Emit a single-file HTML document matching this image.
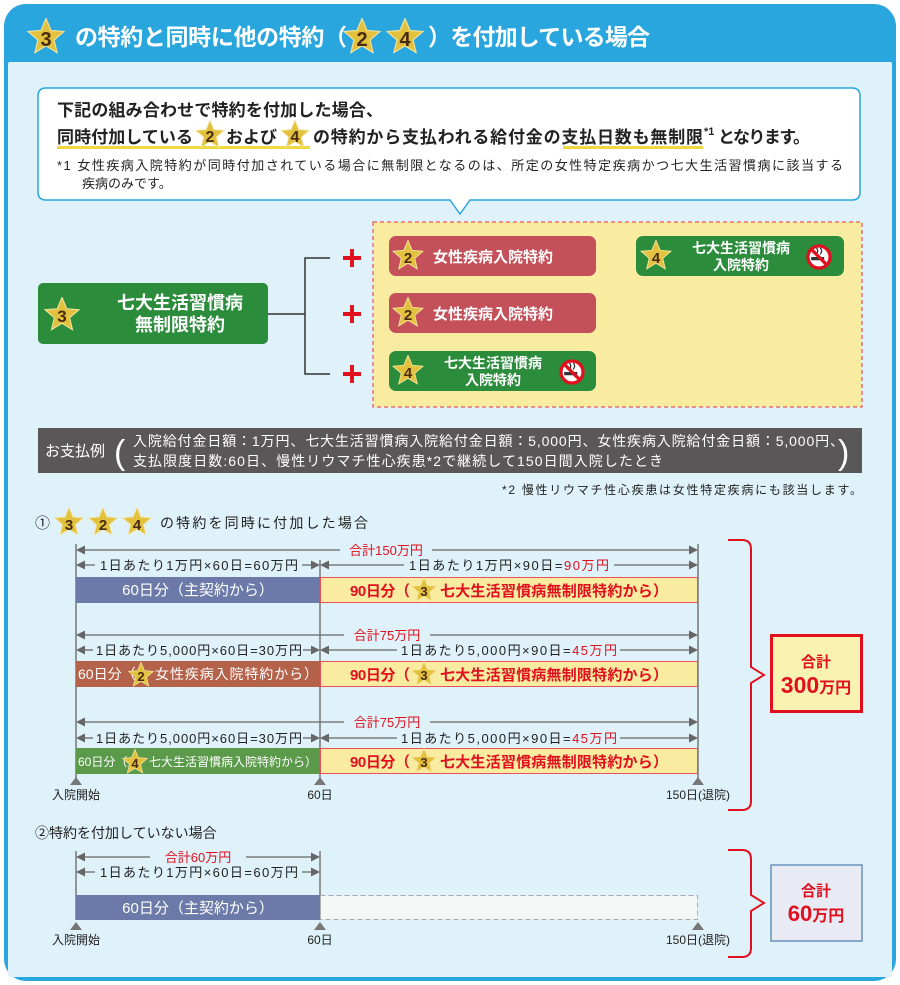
<!DOCTYPE html>
<html><head><meta charset="utf-8"><style>
html,body{margin:0;padding:0;background:#fff;}
svg{display:block;font-family:"Liberation Sans","Noto Sans CJK JP",sans-serif;}
</style></head><body>
<svg width="900" height="985" viewBox="0 0 900 985" xmlns="http://www.w3.org/2000/svg">
<defs>
<symbol id="st" viewBox="-1 -1.02 2 1.9"><polygon points="0,-1 .265,-.364 .951,-.309 .428,.139 .588,.809 0,.45 -.588,.809 -.428,.139 -.951,-.309 -.265,-.364" fill="#e2c13e" stroke="#f4e39a" stroke-width=".06"/></symbol>
<symbol id="ns" viewBox="-10 -10 20 20"><circle r="8.5" fill="#fff" stroke="#e0101e" stroke-width="2.5"/><rect x="-6" y="0" width="10" height="2.5" fill="#333"/><path d="M-2,-2 q2,-3 0,-5 M1,-2 q2,-3 0,-5" stroke="#333" stroke-width="1" fill="none"/><line x1="-6" y1="-6" x2="6" y2="6" stroke="#e0101e" stroke-width="2.5"/></symbol>
<marker id="ar" viewBox="0 0 10 10" refX="9" refY="5" markerWidth="7" markerHeight="7" orient="auto-start-reverse"><path d="M0,0 L10,5 L0,10 z" fill="#666"/></marker>
</defs>
<rect x="4" y="4" width="892" height="977" rx="22" fill="#2aa6de"/>
<rect x="8" y="62" width="884" height="915" rx="2" fill="#dff1f9"/>
<!-- title -->
<use href="#st" x="27" y="18" width="38" height="36"/>
<text x="46" y="46" font-size="20" font-weight="bold" fill="#4a2a10" text-anchor="middle">3</text>
<text x="75" y="45" font-size="23" font-weight="bold" fill="#fff" textLength="272">の特約と同時に他の特約（</text>
<use href="#st" x="343" y="18" width="38" height="36"/>
<text x="362" y="46" font-size="20" font-weight="bold" fill="#4a2a10" text-anchor="middle">2</text>
<use href="#st" x="386" y="18" width="38" height="36"/>
<text x="405" y="46" font-size="20" font-weight="bold" fill="#4a2a10" text-anchor="middle">4</text>
<text x="428" y="45" font-size="23" font-weight="bold" fill="#fff" textLength="222">）を付加している場合</text>
<!-- callout -->
<path d="M46,88 H852 Q860,88 860,96 V192 Q860,200 852,200 H470 L460,214 L450,200 H46 Q38,200 38,192 V96 Q38,88 46,88 Z" fill="#fff" stroke="#2aa6de" stroke-width="1.5"/>
<text x="57" y="116" font-size="17" font-weight="bold" fill="#222" textLength="326">下記の組み合わせで特約を付加した場合、</text>
<rect x="57" y="146" width="253" height="3" fill="#f0d840"/>
<rect x="563" y="146" width="140" height="3" fill="#f0d840"/>
<text x="57" y="143" font-size="17" font-weight="bold" fill="#222" textLength="136">同時付加している</text>
<use href="#st" x="195" y="120" width="30" height="28"/><text x="210" y="142" font-size="16" font-weight="bold" fill="#4a2a10" text-anchor="middle">2</text>
<text x="226" y="143" font-size="17" font-weight="bold" fill="#222" textLength="51">および</text>
<use href="#st" x="280" y="120" width="30" height="28"/><text x="295" y="142" font-size="16" font-weight="bold" fill="#4a2a10" text-anchor="middle">4</text>
<text x="313" y="143" font-size="17" font-weight="bold" fill="#222" textLength="390">の特約から支払われる給付金の支払日数も無制限</text>
<text x="704" y="135" font-size="11" font-weight="bold" fill="#222">*1</text>
<text x="718" y="143" font-size="17" font-weight="bold" fill="#222" textLength="92">となります。</text>
<text x="57" y="170" font-size="13" fill="#222" textLength="786">*1  女性疾病入院特約が同時付加されている場合に無制限となるのは、所定の女性特定疾病かつ七大生活習慣病に該当する</text>
<text x="82" y="188" font-size="13" fill="#222">疾病のみです。</text>
<!-- left green -->
<rect x="38" y="283" width="230" height="61" rx="5" fill="#2b8c3b"/>
<use href="#st" x="44" y="297" width="36" height="34"/><text x="62" y="322" font-size="17" font-weight="bold" fill="#4a2a10" text-anchor="middle">3</text>
<text x="180" y="309" font-size="18" font-weight="bold" fill="#fff" text-anchor="middle">七大生活習慣病</text>
<text x="180" y="331" font-size="18" font-weight="bold" fill="#fff" text-anchor="middle">無制限特約</text>
<path d="M268,314 H305 M330,258 H305 V374 H330" stroke="#333" stroke-width="1.5" fill="none"/>
<g fill="#e0101e"><rect x="343" y="256" width="18" height="4"/><rect x="350" y="249" width="4" height="18"/>
<rect x="343" y="312" width="18" height="4"/><rect x="350" y="305" width="4" height="18"/>
<rect x="343" y="372" width="18" height="4"/><rect x="350" y="365" width="4" height="18"/>
<rect x="607" y="253" width="20" height="4"/><rect x="615" y="245" width="4" height="20"/></g>
<!-- yellow dashed -->
<rect x="373" y="222" width="489" height="185" fill="#f9eba0" stroke="#e8323c" stroke-dasharray="4,3" stroke-width="1"/>
<rect x="389" y="236" width="207" height="40" rx="7" fill="#c4505a"/>
<rect x="389" y="293" width="207" height="40" rx="7" fill="#c4505a"/>
<rect x="389" y="351" width="207" height="40" rx="7" fill="#2b8c3b"/>
<rect x="636" y="236" width="208" height="40" rx="7" fill="#2b8c3b"/>
<use href="#st" x="392" y="240" width="32" height="30"/><text x="408" y="263" font-size="15" font-weight="bold" fill="#4a2a10" text-anchor="middle">2</text>
<text x="433" y="262" font-size="15" font-weight="bold" fill="#fff">女性疾病入院特約</text>
<use href="#st" x="392" y="297" width="32" height="30"/><text x="408" y="320" font-size="15" font-weight="bold" fill="#4a2a10" text-anchor="middle">2</text>
<text x="433" y="319" font-size="15" font-weight="bold" fill="#fff">女性疾病入院特約</text>
<use href="#st" x="392" y="355" width="32" height="30"/><text x="408" y="378" font-size="15" font-weight="bold" fill="#4a2a10" text-anchor="middle">4</text>
<text x="493" y="368" font-size="14" font-weight="bold" fill="#fff" text-anchor="middle">七大生活習慣病</text>
<text x="493" y="385" font-size="14" font-weight="bold" fill="#fff" text-anchor="middle">入院特約</text>
<use href="#ns" x="559" y="359" width="26" height="26"/>
<use href="#st" x="640" y="240" width="32" height="30"/><text x="656" y="263" font-size="15" font-weight="bold" fill="#4a2a10" text-anchor="middle">4</text>
<text x="741" y="253" font-size="14" font-weight="bold" fill="#fff" text-anchor="middle">七大生活習慣病</text>
<text x="741" y="270" font-size="14" font-weight="bold" fill="#fff" text-anchor="middle">入院特約</text>
<use href="#ns" x="806" y="244" width="26" height="26"/>
<!-- gray band -->
<rect x="38" y="428" width="824" height="45" fill="#595757"/>
<text x="45" y="456" font-size="15" fill="#fff">お支払例</text>
<text x="114" y="464" font-size="34" fill="#fff">(</text>
<text x="838" y="464" font-size="34" fill="#fff">)</text>
<text x="133" y="446" font-size="14" fill="#fff" textLength="711">入院給付金日額：1万円、七大生活習慣病入院給付金日額：5,000円、女性疾病入院給付金日額：5,000円、</text>
<text x="133" y="466" font-size="14" fill="#fff" textLength="530">支払限度日数:60日、慢性リウマチ性心疾患*2で継続して150日間入院したとき</text>
<text x="862" y="494" font-size="12" fill="#222" text-anchor="end" textLength="360">*2 慢性リウマチ性心疾患は女性特定疾病にも該当します。</text>
<!-- section 1 -->
<text x="35" y="528" font-size="15" fill="#222">①</text>
<use href="#st" x="54" y="507" width="30" height="29"/><text x="69" y="530" font-size="15" font-weight="bold" fill="#4a2a10" text-anchor="middle">3</text>
<use href="#st" x="88" y="507" width="30" height="29"/><text x="103" y="530" font-size="15" font-weight="bold" fill="#4a2a10" text-anchor="middle">2</text>
<use href="#st" x="122" y="507" width="30" height="29"/><text x="137" y="530" font-size="15" font-weight="bold" fill="#4a2a10" text-anchor="middle">4</text>
<text x="160" y="528" font-size="14" fill="#222" textLength="208">の特約を同時に付加した場合</text>
<g stroke="#777" stroke-width="1.5">
<line x1="76" y1="544" x2="76" y2="778"/><line x1="320" y1="560" x2="320" y2="778"/><line x1="698" y1="544" x2="698" y2="778"/>
</g>
<g fill="#777"><path d="M70,785 L76,777 L82,785 Z"/><path d="M314,785 L320,777 L326,785 Z"/><path d="M692,785 L698,777 L704,785 Z"/></g>
<text x="76" y="799" font-size="12" fill="#222" text-anchor="middle">入院開始</text>
<text x="320" y="799" font-size="12" fill="#222" text-anchor="middle">60日</text>
<text x="698" y="799" font-size="12" fill="#222" text-anchor="middle">150日(退院)</text>
<g stroke="#666" stroke-width="1.3" fill="none">
<line x1="77" y1="550" x2="340" y2="550" marker-start="url(#ar)"/><line x1="432" y1="550" x2="697" y2="550" marker-end="url(#ar)"/>
<line x1="77" y1="565" x2="95" y2="565" marker-start="url(#ar)"/><line x1="302" y1="565" x2="319" y2="565" marker-end="url(#ar)"/>
<line x1="321" y1="565" x2="404" y2="565" marker-start="url(#ar)"/><line x1="614" y1="565" x2="697" y2="565" marker-end="url(#ar)"/>
<line x1="77" y1="635" x2="344" y2="635" marker-start="url(#ar)"/><line x1="430" y1="635" x2="697" y2="635" marker-end="url(#ar)"/>
<line x1="77" y1="650" x2="93" y2="650" marker-start="url(#ar)"/><line x1="303" y1="650" x2="319" y2="650" marker-end="url(#ar)"/>
<line x1="321" y1="650" x2="397" y2="650" marker-start="url(#ar)"/><line x1="620" y1="650" x2="697" y2="650" marker-end="url(#ar)"/>
<line x1="77" y1="722" x2="344" y2="722" marker-start="url(#ar)"/><line x1="430" y1="722" x2="697" y2="722" marker-end="url(#ar)"/>
<line x1="77" y1="738" x2="93" y2="738" marker-start="url(#ar)"/><line x1="303" y1="738" x2="319" y2="738" marker-end="url(#ar)"/>
<line x1="321" y1="738" x2="397" y2="738" marker-start="url(#ar)"/><line x1="620" y1="738" x2="697" y2="738" marker-end="url(#ar)"/>
</g>
<g font-size="13" fill="#222">
<text x="386" y="555" fill="#e0101e" text-anchor="middle">合計150万円</text>
<text x="100" y="570" textLength="198">1日あたり1万円×60日=60万円</text>
<text x="409" y="570" textLength="200">1日あたり1万円×90日=<tspan fill="#e0101e">90万円</tspan></text>
<text x="387" y="640" fill="#e0101e" text-anchor="middle">合計75万円</text>
<text x="96" y="655" textLength="206">1日あたり5,000円×60日=30万円</text>
<text x="401" y="655" textLength="216">1日あたり5,000円×90日=<tspan fill="#e0101e">45万円</tspan></text>
<text x="387" y="727" fill="#e0101e" text-anchor="middle">合計75万円</text>
<text x="96" y="743" textLength="206">1日あたり5,000円×60日=30万円</text>
<text x="401" y="743" textLength="216">1日あたり5,000円×90日=<tspan fill="#e0101e">45万円</tspan></text>
</g>
<rect x="76" y="577" width="244" height="26" fill="#6b7aa8"/>
<rect x="76" y="661" width="244" height="26" fill="#b5624a"/>
<rect x="76" y="748" width="244" height="26" fill="#5a9a4a"/>
<g fill="#f9eba0" stroke="#e8505a" stroke-width="1"><rect x="320.5" y="577.5" width="377" height="25"/><rect x="320.5" y="661.5" width="377" height="25"/><rect x="320.5" y="748.5" width="377" height="25"/></g>
<text x="198" y="595" font-size="15" fill="#fff" text-anchor="middle">60日分（主契約から）</text>
<text x="78" y="679" font-size="14" fill="#fff">60日分（</text>
<use href="#st" x="128" y="662" width="26" height="25"/><text x="141" y="681" font-size="13" font-weight="bold" fill="#4a2a10" text-anchor="middle">2</text>
<text x="155" y="679" font-size="14" fill="#fff" textLength="163">女性疾病入院特約から）</text>
<text x="78" y="766" font-size="12" fill="#fff">60日分（</text>
<use href="#st" x="122" y="749" width="26" height="25"/><text x="135" y="768" font-size="13" font-weight="bold" fill="#4a2a10" text-anchor="middle">4</text>
<text x="149" y="766" font-size="12" fill="#fff" textLength="168">七大生活習慣病入院特約から）</text>
<g font-size="15" font-weight="bold" fill="#e0101e">
<text x="350" y="596" textLength="60">90日分（</text><text x="440" y="596" textLength="228">七大生活習慣病無制限特約から）</text>
<text x="350" y="680" textLength="60">90日分（</text><text x="440" y="680" textLength="228">七大生活習慣病無制限特約から）</text>
<text x="350" y="767" textLength="60">90日分（</text><text x="440" y="767" textLength="228">七大生活習慣病無制限特約から）</text>
</g>
<use href="#st" x="411" y="577" width="26" height="25"/><text x="424" y="596" font-size="13" font-weight="bold" fill="#4a2a10" text-anchor="middle">3</text>
<use href="#st" x="411" y="661" width="26" height="25"/><text x="424" y="680" font-size="13" font-weight="bold" fill="#4a2a10" text-anchor="middle">3</text>
<use href="#st" x="411" y="748" width="26" height="25"/><text x="424" y="767" font-size="13" font-weight="bold" fill="#4a2a10" text-anchor="middle">3</text>
<path d="M728,540 H742 Q751,540 751,549 V667 L764,675 L751,683 V801 Q751,810 742,810 H728" fill="none" stroke="#e0101e" stroke-width="2"/>
<rect x="771.5" y="635.5" width="90" height="76" fill="#faf2b0" stroke="#e0101e" stroke-width="3"/>
<text x="816" y="667" font-size="15" font-weight="bold" fill="#e0101e" text-anchor="middle">合計</text>
<text x="816" y="693" font-size="23" font-weight="bold" fill="#e0101e" text-anchor="middle">300<tspan font-size="16">万円</tspan></text>
<!-- section 2 -->
<text x="35" y="838" font-size="14" fill="#222">②特約を付加していない場合</text>
<g stroke="#777" stroke-width="1.5"><line x1="76" y1="851" x2="76" y2="920"/><line x1="320" y1="851" x2="320" y2="920"/></g>
<g stroke="#666" stroke-width="1.3" fill="none">
<line x1="77" y1="857" x2="150" y2="857" marker-start="url(#ar)"/><line x1="246" y1="857" x2="319" y2="857" marker-end="url(#ar)"/>
<line x1="77" y1="872" x2="95" y2="872" marker-start="url(#ar)"/><line x1="302" y1="872" x2="319" y2="872" marker-end="url(#ar)"/>
</g>
<text x="198" y="862" font-size="13" fill="#e0101e" text-anchor="middle">合計60万円</text>
<text x="100" y="877" font-size="13" fill="#222" textLength="198">1日あたり1万円×60日=60万円</text>
<rect x="76" y="895" width="244" height="25" fill="#6b7aa8"/>
<text x="198" y="913" font-size="15" fill="#fff" text-anchor="middle">60日分（主契約から）</text>
<rect x="320.5" y="895.5" width="377" height="24" fill="#f5f7f7" stroke="#aaa" stroke-dasharray="5,3"/>
<g fill="#777"><path d="M70,930 L76,922 L82,930 Z"/><path d="M314,930 L320,922 L326,930 Z"/><path d="M692,930 L698,922 L704,930 Z"/></g>
<text x="76" y="944" font-size="12" fill="#222" text-anchor="middle">入院開始</text>
<text x="320" y="944" font-size="12" fill="#222" text-anchor="middle">60日</text>
<text x="698" y="944" font-size="12" fill="#222" text-anchor="middle">150日(退院)</text>
<path d="M728,850 H742 Q751,850 751,859 V895 L764,903 L751,911 V948 Q751,957 742,957 H728" fill="none" stroke="#e0101e" stroke-width="2"/>
<rect x="771" y="865" width="91" height="76" fill="#e8eaf4" stroke="#4a7ab0" stroke-width="1.2"/>
<text x="816" y="896" font-size="15" font-weight="bold" fill="#e0101e" text-anchor="middle">合計</text>
<text x="816" y="921" font-size="22" font-weight="bold" fill="#e0101e" text-anchor="middle">60<tspan font-size="16">万円</tspan></text>
</svg>
</body></html>
